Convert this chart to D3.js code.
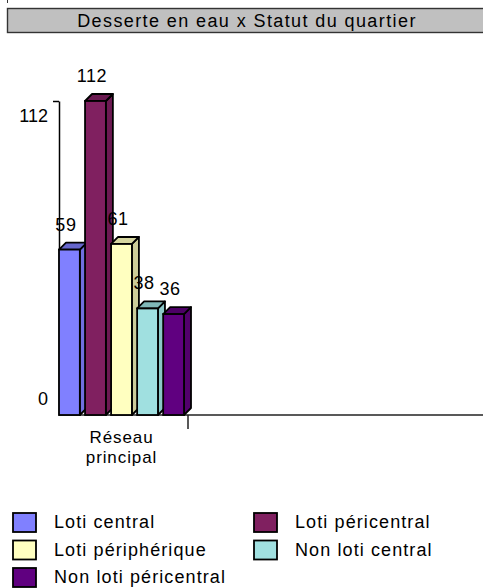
<!DOCTYPE html>
<html>
<head>
<meta charset="utf-8">
<script src="https://cdn.jsdelivr.net/npm/d3@7"></script>
<style>
  html, body { margin: 0; padding: 0; background: #fff; }
  svg { display: block; }
  text { font-family: "Liberation Sans", Arial, sans-serif; fill: #000; }
</style>
</head>
<body>
<svg id="chart" width="483" height="588"></svg>
<script>
// Chart data
const title = "Desserte en eau x Statut du quartier";
const categories = ["Réseau principal"];
const series = ["Loti central", "Loti péricentral", "Loti périphérique", "Non loti central", "Non loti péricentral"];
const values = [59, 112, 61, 38, 36];
const yTicks = [0, 112];
const fills = ["#8080ff", "#802060", "#ffffc0", "#a0e0e0", "#600080"];
const tops  = ["#6666cc", "#6a1a50", "#d6d6a0", "#80b8b8", "#4d0066"];
const sides = ["#7070e0", "#6c1a52", "#cccc99", "#8cc8c8", "#52006c"];

const svg = d3.select("#chart");
const SW = 1.8;

// Title banner
svg.append("line").attr("x1", 7.5).attr("x2", 7.5).attr("y1", 0).attr("y2", 3)
  .attr("stroke", "#333");
svg.append("rect")
  .attr("x", 7.5).attr("y", 8.5).attr("width", 480).attr("height", 24)
  .attr("fill", "#c0c0c0").attr("stroke", "#333").attr("stroke-width", 1.4);
svg.append("text")
  .attr("x", 247).attr("y", 27)
  .attr("text-anchor", "middle")
  .attr("font-size", 18).attr("letter-spacing", 1.4)
  .text(title);

// Plot geometry
const plot = { left: 59, right: 483, top: 101, bottom: 415 };
const depth = { dx: 7, dy: 7 };

const x0 = d3.scaleBand().domain(categories).range([plot.left, plot.left + 129]);
const x1 = d3.scaleBand().domain(series).range([0, 125]).paddingInner(0.2).paddingOuter(0);
const y = d3.scaleLinear().domain([0, 112]).range([plot.bottom, plot.top]);
// tick labels sit slightly inside the axis ends
const yLabel = d3.scaleLinear().domain([0, 112]).range([plot.bottom - 16, plot.top + 15]);

// Y axis line with top tick
const yAxis = svg.append("g")
  .attr("transform", `translate(${plot.left},0)`)
  .call(d3.axisLeft(y).tickValues([112]).tickSize(6).tickSizeOuter(0).tickFormat(""));
yAxis.select(".domain").attr("stroke", "#000").attr("stroke-width", 1.5);
yAxis.selectAll(".tick line").attr("stroke", "#000").attr("stroke-width", 1.5);

const yLab = svg.append("g")
  .attr("transform", `translate(${plot.left - 11},0)`)
  .call(d3.axisLeft(yLabel).tickValues(yTicks).tickSize(0).tickPadding(0).tickFormat(d3.format("d")));
yLab.select(".domain").remove();
yLab.selectAll("text").attr("font-size", 18).attr("font-family", null).attr("fill", "#000");

// X axis baseline with category separator tick
svg.append("line")
  .attr("x1", plot.left).attr("x2", plot.right)
  .attr("y1", plot.bottom).attr("y2", plot.bottom)
  .attr("stroke", "#222").attr("stroke-width", 1.5);
svg.selectAll(".cat-tick").data(categories).enter().append("line")
  .attr("x1", d => x0(d) + x0.bandwidth()).attr("x2", d => x0(d) + x0.bandwidth())
  .attr("y1", plot.bottom).attr("y2", plot.bottom + 14)
  .attr("stroke", "#222").attr("stroke-width", 1.5);

// Category labels (wrapped on two lines)
const catG = svg.selectAll(".cat").data(categories).enter().append("text")
  .attr("text-anchor", "middle").attr("font-size", 17).attr("letter-spacing", 0.9);
catG.each(function(d) {
  const words = d.split(" ");
  const t = d3.select(this);
  words.forEach((w, i) => {
    t.append("tspan")
      .attr("x", x0(d) + x0.bandwidth() / 2 - 2)
      .attr("y", 443 + i * 19.5)
      .text(w);
  });
});

// 3D bars
const data = series.map((s, i) => ({ s, v: values[i], i, cat: categories[0] }));
const bars = svg.selectAll(".bar").data(data).enter().append("g").attr("class", "bar");

bars.each(function(d) {
  const g = d3.select(this);
  const bx = x0(d.cat) + x1(d.s);
  const bw = x1.bandwidth();
  const by = y(d.v);
  const base = y(0);
  const { dx, dy } = depth;
  // side face
  g.append("polygon")
    .attr("points", [[bx + bw, by], [bx + bw + dx, by - dy], [bx + bw + dx, base - dy], [bx + bw, base]].join(" "))
    .attr("fill", sides[d.i]).attr("stroke", "#000").attr("stroke-width", SW).attr("stroke-linejoin", "round");
  // top face
  g.append("polygon")
    .attr("points", [[bx, by], [bx + dx, by - dy], [bx + bw + dx, by - dy], [bx + bw, by]].join(" "))
    .attr("fill", tops[d.i]).attr("stroke", "#000").attr("stroke-width", SW).attr("stroke-linejoin", "round");
  // front face
  g.append("rect")
    .attr("x", bx).attr("y", by).attr("width", bw).attr("height", base - by)
    .attr("fill", fills[d.i]).attr("stroke", "#000").attr("stroke-width", SW);
});

// Value labels
svg.selectAll(".val").data(data).enter().append("text")
  .attr("x", d => x0(d.cat) + x1(d.s) + x1.bandwidth() / 2 - 3.5)
  .attr("y", d => y(d.v) - 19)
  .attr("text-anchor", "middle")
  .attr("font-size", 18).attr("letter-spacing", 0.6)
  .text(d => d.v);

// Legend
const legend = svg.append("g");
const items = legend.selectAll("g").data(series).enter().append("g")
  .attr("transform", (d, i) => `translate(${i % 2 === 0 ? 13 : 254},${513 + Math.floor(i / 2) * 27.5})`);
items.append("rect")
  .attr("x", 0).attr("y", 0).attr("width", 23).attr("height", 19)
  .attr("fill", (d, i) => fills[i]).attr("stroke", "#000").attr("stroke-width", SW);
items.append("text")
  .attr("x", 41).attr("y", 15)
  .attr("font-size", 18).attr("letter-spacing", 1.1)
  .text(d => d);
</script>
</body>
</html>
